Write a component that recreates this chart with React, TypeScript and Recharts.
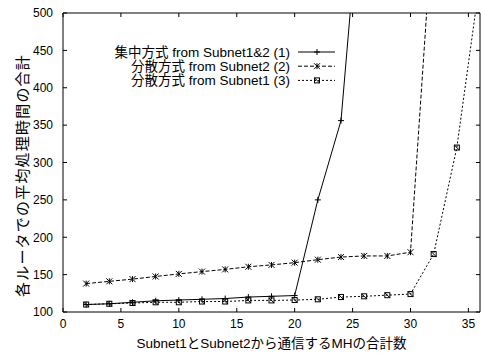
import React from "react";
import { LineChart, Line, XAxis, YAxis, ReferenceLine, Legend } from "recharts";

const xValues = [2, 4, 6, 8, 10, 12, 14, 16, 18, 20, 22, 24, 26, 28, 30, 32, 34, 36];
const centralized = [110, 111, 113, 115, 116, 117, 118, 120, 121, 122, 250, 356, 720, null, null, null, null, null];
const distSubnet2 = [138, 141, 144, 147.5, 151, 154, 157, 160.5, 163, 166, 170, 173.5, 175, 175, 180, 640, null, null];
const distSubnet1 = [110, 111, 112, 113, 113, 114, 114, 115.5, 115.5, 116, 117, 120, 121, 122.5, 124, 177.5, 320, 545];

const seriesNames = [
  "集中方式 from Subnet1&2 (1)",
  "分散方式 from Subnet2 (2)",
  "分散方式 from Subnet1 (3)",
];
const xTicks = [0, 5, 10, 15, 20, 25, 30, 35];
const yTicks = [100, 150, 200, 250, 300, 350, 400, 450, 500];
const xLabel = "Subnet1とSubnet2から通信するMHの合計数";
const yLabel = "各ルータでの平均処理時間の合計";

const data = xValues.map((x, i) => ({
  x,
  s1: centralized[i],
  s2: distSubnet2[i],
  s3: distSubnet1[i],
}));

const FONT = '"Liberation Sans", "Noto Sans CJK JP", sans-serif';
const XMAX = 36;
const YMIN = 100;
const YMAX = 500;
const XT = 0.35;
const YT = 5.4;

const dashes = ["", "4 2", "2 2"];

function marker(kind: number, cx: number, cy: number, key?: any) {
  if (cx == null || cy == null || isNaN(cx) || isNaN(cy)) return <g key={key} />;
  const s = 3;
  if (kind === 0) {
    return (
      <g key={key} stroke="#000" strokeWidth={1}>
        <line x1={cx - s} y1={cy} x2={cx + s} y2={cy} />
        <line x1={cx} y1={cy - s} x2={cx} y2={cy + s} />
      </g>
    );
  }
  if (kind === 1) {
    return (
      <g key={key} stroke="#000" strokeWidth={1}>
        <line x1={cx - s} y1={cy - s} x2={cx + s} y2={cy + s} />
        <line x1={cx - s} y1={cy + s} x2={cx + s} y2={cy - s} />
        <line x1={cx} y1={cy - s} x2={cx} y2={cy + s} />
      </g>
    );
  }
  return (
    <g key={key} stroke="#000" strokeWidth={1} fill="none">
      <rect x={cx - 2.5} y={cy - 2.5} width={5} height={5} />
      <line x1={cx - 2.5} y1={cy - 2.5} x2={cx + 2.5} y2={cy + 2.5} />
    </g>
  );
}

const LegendContent = () => (
  <svg width={250} height={46} style={{ display: "block" }}>
    {seriesNames.map((name, i) => {
      const y = 7 + i * 14.2;
      return (
        <g key={name}>
          <text x={190} y={y} textAnchor="end" dominantBaseline="central" fontSize={13.5} fontFamily={FONT} fill="#000">
            {name}
          </text>
          <line x1={198} y1={y} x2={235} y2={y} stroke="#000" strokeWidth={1} strokeDasharray={dashes[i]} />
          {marker(i, 217, y)}
        </g>
      );
    })}
  </svg>
);

const YLabelContent = (props: any) => {
  const vb = props.viewBox || {};
  const x = (vb.x ?? 0) + 22;
  const y = (vb.y ?? 0) + (vb.height ?? 0) / 2 + 13;
  return (
    <text
      x={x}
      y={y}
      transform={`rotate(-90, ${x}, ${y})`}
      textAnchor="middle"
      dominantBaseline="central"
      fontSize={15}
      letterSpacing={1.2}
      fontFamily={FONT}
      fill="#000"
    >
      {yLabel}
    </text>
  );
};

export default function App() {
  return (
    <div style={{ position: "absolute", left: 0, top: 0, background: "#fff" }}>
      <LineChart width={481} height={354} data={data} margin={{ top: 13, right: 1, bottom: 2, left: 0 }}>
        <XAxis
          dataKey="x"
          type="number"
          domain={[0, XMAX]}
          ticks={xTicks}
          tickSize={0}
          tickMargin={7}
          height={40}
          axisLine={{ stroke: "#000" }}
          tick={{ fill: "#000", fontSize: 12, fontFamily: FONT }}
          label={{ value: xLabel, position: "insideBottom", offset: 4, fill: "#000", fontSize: 13.5, fontFamily: FONT }}
        />
        <YAxis
          type="number"
          domain={[YMIN, YMAX]}
          ticks={yTicks}
          allowDataOverflow
          width={63}
          tickSize={0}
          tickMargin={10}
          axisLine={{ stroke: "#000" }}
          tick={{ fill: "#000", fontSize: 12, fontFamily: FONT }}
          label={{ content: YLabelContent }}
        />
        <ReferenceLine y={YMAX} stroke="#000" ifOverflow="visible" />
        <ReferenceLine x={XMAX} stroke="#000" ifOverflow="visible" />
        {xTicks.map((t) => (
          <ReferenceLine
            key={"xb" + t}
            segment={[{ x: t, y: YMIN }, { x: t, y: YMIN + YT }]}
            stroke="#000"
            ifOverflow="visible"
          />
        ))}
        {xTicks.map((t) => (
          <ReferenceLine
            key={"xt" + t}
            segment={[{ x: t, y: YMAX }, { x: t, y: YMAX - YT }]}
            stroke="#000"
            ifOverflow="visible"
          />
        ))}
        {yTicks.map((t) => (
          <ReferenceLine
            key={"yl" + t}
            segment={[{ x: 0, y: t }, { x: XT, y: t }]}
            stroke="#000"
            ifOverflow="visible"
          />
        ))}
        {yTicks.map((t) => (
          <ReferenceLine
            key={"yr" + t}
            segment={[{ x: XMAX, y: t }, { x: XMAX - XT, y: t }]}
            stroke="#000"
            ifOverflow="visible"
          />
        ))}
        {["s1", "s2", "s3"].map((k, i) => (
          <Line
            key={k}
            dataKey={k}
            name={seriesNames[i]}
            type="linear"
            stroke="#000"
            strokeWidth={1}
            strokeDasharray={dashes[i] || undefined}
            isAnimationActive={false}
            connectNulls={false}
            dot={(p: any) => marker(i, p.cx, p.cy, p.key ?? `${k}-${p.index}`)}
            activeDot={false}
            legendType="none"
          />
        ))}
        <Legend
          layout="horizontal"
          verticalAlign="middle"
          align="center"
          content={LegendContent}
          wrapperStyle={{ position: "absolute", left: 100, top: 45, width: 250, height: 46 }}
        />
      </LineChart>
    </div>
  );
}
